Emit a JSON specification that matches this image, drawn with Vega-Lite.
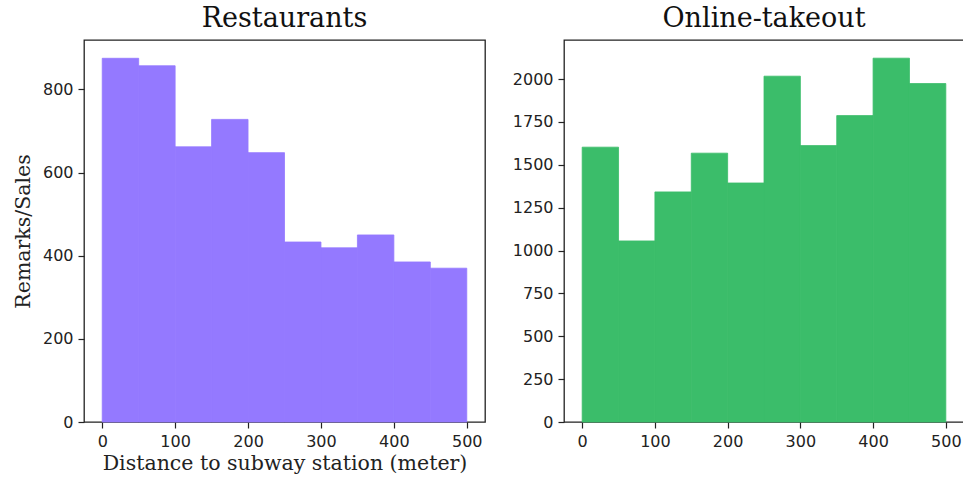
{
  "$schema": "https://vega.github.io/schema/vega-lite/v6.json",
  "background": "white",
  "padding": {"left": 12, "top": 4, "right": 0, "bottom": 0},
  "spacing": 25,
  "config": {
    "view": {"stroke": "#222222", "strokeWidth": 1.3},
    "axis": {
      "domain": false,
      "grid": false,
      "ticks": true,
      "tickSize": 6,
      "tickColor": "#222222",
      "tickWidth": 1.2,
      "labelFont": "DejaVu Sans",
      "labelFontSize": 16,
      "labelColor": "#222222",
      "labelPadding": 5,
      "format": "d",
      "titleFont": "DejaVu Serif",
      "titleFontSize": 20.5,
      "titleFontWeight": "normal",
      "titleColor": "#222222"
    },
    "title": {"font": "DejaVu Serif", "fontSize": 27, "fontWeight": "normal", "color": "#111111", "offset": 7}
  },
  "datasets": {
    "restaurants": [
      {"start": 0, "end": 50, "value": 875},
      {"start": 50, "end": 100, "value": 857},
      {"start": 100, "end": 150, "value": 662},
      {"start": 150, "end": 200, "value": 728},
      {"start": 200, "end": 250, "value": 648},
      {"start": 250, "end": 300, "value": 433},
      {"start": 300, "end": 350, "value": 419},
      {"start": 350, "end": 400, "value": 450},
      {"start": 400, "end": 450, "value": 385},
      {"start": 450, "end": 500, "value": 370}
    ],
    "takeout": [
      {"start": 0, "end": 50, "value": 1603},
      {"start": 50, "end": 100, "value": 1056},
      {"start": 100, "end": 150, "value": 1342},
      {"start": 150, "end": 200, "value": 1568},
      {"start": 200, "end": 250, "value": 1394},
      {"start": 250, "end": 300, "value": 2017},
      {"start": 300, "end": 350, "value": 1612},
      {"start": 350, "end": 400, "value": 1787},
      {"start": 400, "end": 450, "value": 2122},
      {"start": 450, "end": 500, "value": 1974}
    ]
  },
  "hconcat": [
    {
      "title": "Restaurants",
      "width": 401,
      "height": 382,
      "data": {"name": "restaurants"},
      "mark": {"type": "rect", "color": "#9479ff", "stroke": "#9479ff", "strokeWidth": 0.8, "opacity": 1},
      "encoding": {
        "x": {"field": "start", "type": "quantitative", "scale": {"domain": [-25, 525], "nice": false, "zero": false},
              "axis": {"values": [0, 100, 200, 300, 400, 500], "title": "Distance to subway station (meter)", "titlePadding": 4}},
        "x2": {"field": "end"},
        "y": {"field": "value", "type": "quantitative", "scale": {"domain": [0, 919], "nice": false},
              "axis": {"values": [0, 200, 400, 600, 800], "title": "Remarks/Sales", "titlePadding": 9}},
        "y2": {"datum": 0}
      }
    },
    {
      "title": "Online-takeout",
      "width": 400,
      "height": 382,
      "data": {"name": "takeout"},
      "mark": {"type": "rect", "color": "#3bbd6a", "stroke": "#3bbd6a", "strokeWidth": 0.8, "opacity": 1},
      "encoding": {
        "x": {"field": "start", "type": "quantitative", "scale": {"domain": [-25, 525], "nice": false, "zero": false},
              "axis": {"values": [0, 100, 200, 300, 400, 500], "title": null}},
        "x2": {"field": "end"},
        "y": {"field": "value", "type": "quantitative", "scale": {"domain": [0, 2228], "nice": false},
              "axis": {"values": [0, 250, 500, 750, 1000, 1250, 1500, 1750, 2000], "title": null}},
        "y2": {"datum": 0}
      }
    }
  ]
}
